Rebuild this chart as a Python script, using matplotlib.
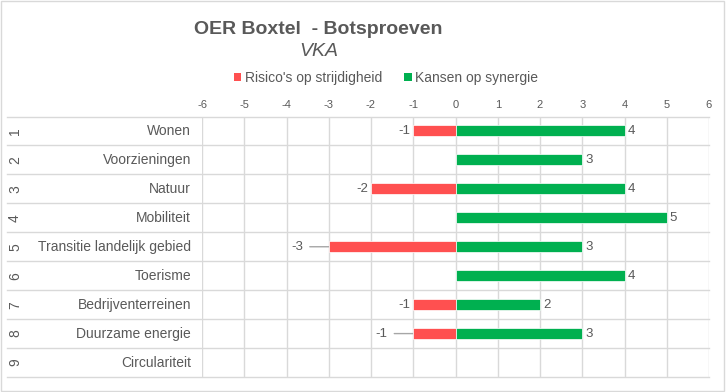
import numpy as np
import matplotlib
matplotlib.use("Agg")
import matplotlib.pyplot as plt
from matplotlib.patches import Rectangle, Patch
import matplotlib.transforms as mtransforms

plt.rcParams['font.family'] = ['Liberation Sans', 'DejaVu Sans']

# ---- data ----
numbers = ['1', '2', '3', '4', '5', '6', '7', '8', '9']
categories = ['Wonen', 'Voorzieningen', 'Natuur', 'Mobiliteit',
              'Transitie landelijk gebied', 'Toerisme', 'Bedrijventerreinen',
              'Duurzame energie', 'Circulariteit']
risico = [-1, np.nan, -2, np.nan, -3, np.nan, -1, -1, np.nan]
kansen = [4, 3, 4, 5, 3, 4, 2, 3, np.nan]
xticks = [-6, -5, -4, -3, -2, -1, 0, 1, 2, 3, 4, 5, 6]
title = 'OER Boxtel  - Botsproeven'
subtitle = 'VKA'
series_names = ["Risico's op strijdigheid", 'Kansen op synergie']

# style
RED = '#FF5050'
GREEN = '#00B050'
GRID = '#D9D9D9'
TXT = '#595959'
leader_rows = {4, 7}  # labels drawn with a leader line

W, H = 727, 392
fig = plt.figure(figsize=(W / 100, H / 100), dpi=100)
L, R, T, B = 202, 709, 116.5, 377
ax = fig.add_axes([L / W, 1 - B / H, (R - L) / W, (B - T) / H])

y = np.arange(len(categories))
ax.barh(y, risico, height=0.38, color=RED, edgecolor='white', linewidth=0.5, zorder=3)
ax.barh(y, kansen, height=0.38, color=GREEN, edgecolor='white', linewidth=0.5, zorder=3)

ax.set_xlim(xticks[0], xticks[-1])
ax.set_ylim(len(categories) - 0.5, -0.5)
ax.set_xticks(xticks)
ax.set_xticklabels([str(t) for t in xticks])
ax.xaxis.tick_top()
ax.tick_params(axis='x', length=0, pad=5, labelsize=8, labelcolor=TXT)
ax.set_yticks([])
ax.grid(axis='x', color=GRID, linewidth=1, zorder=0)
ax.set_axisbelow(True)
for s in ax.spines.values():
    s.set_visible(False)

# table lines (horizontal) spanning label area too
trans = mtransforms.blended_transform_factory(ax.transAxes, ax.transData)
x_left = (6.5 - L) / (R - L)
for b in np.arange(-0.5, len(categories) + 0.5, 1.0):
    ax.plot([x_left, 1], [b, b], transform=trans, color=GRID, lw=1,
            clip_on=False, zorder=1)

# row labels
x_num = (15 - L) / (R - L)
x_cat = (191 - L) / (R - L)
for i, (n, c) in enumerate(zip(numbers, categories)):
    ax.text(x_num, i, n, transform=trans, rotation=90, ha='center', va='center',
            fontsize=10, color=TXT)
    ax.text(x_cat, i, c, transform=trans, ha='right', va='center',
            fontsize=10, color=TXT)

# value labels
VFS = 9.5
for i, v in enumerate(risico):
    if np.isnan(v):
        continue
    if i in leader_rows:
        ax.annotate('', xy=(v, i), xytext=(-19, 0), textcoords='offset pixels',
                    arrowprops=dict(arrowstyle='-', color='#A6A6A6', lw=1,
                                    shrinkA=0, shrinkB=0), zorder=2)
        ax.annotate(f'{v:g}', xy=(v, i), xytext=(-26, 0), textcoords='offset pixels',
                    ha='right', va='center', fontsize=VFS, color=TXT)
    else:
        ax.annotate(f'{v:g}', xy=(v, i), xytext=(-3, 0), textcoords='offset pixels',
                    ha='right', va='center', fontsize=VFS, color=TXT)
for i, v in enumerate(kansen):
    if np.isnan(v):
        continue
    ax.annotate(f'{v:g}', xy=(v, i), xytext=(3, 0), textcoords='offset pixels',
                ha='left', va='center', fontsize=VFS, color=TXT)

# titles
fig.text(318 / W, 1 - 30 / H, title, ha='center', va='center', fontsize=14,
         fontweight='bold', color=TXT)
fig.text(319 / W, 1 - 51 / H, subtitle, ha='center', va='center', fontsize=14,
         fontstyle='italic', color=TXT)

# legend
handles = [Patch(facecolor=RED, label=series_names[0]),
           Patch(facecolor=GREEN, label=series_names[1])]
leg = fig.legend(handles=handles, loc='center', bbox_to_anchor=(386 / W, 1 - 78 / H),
                 ncol=2, frameon=False, fontsize=10, handlelength=0.55,
                 handleheight=0.55, handletextpad=0.25, columnspacing=1.6,
                 borderpad=0)
for t in leg.get_texts():
    t.set_color(TXT)

# chart border
fig.patches.append(Rectangle((1 / W, 1 - 391 / H), 723 / W, 390 / H,
                             transform=fig.transFigure, fill=False,
                             edgecolor=GRID, linewidth=1))

fig.savefig('out.png', dpi=100)
